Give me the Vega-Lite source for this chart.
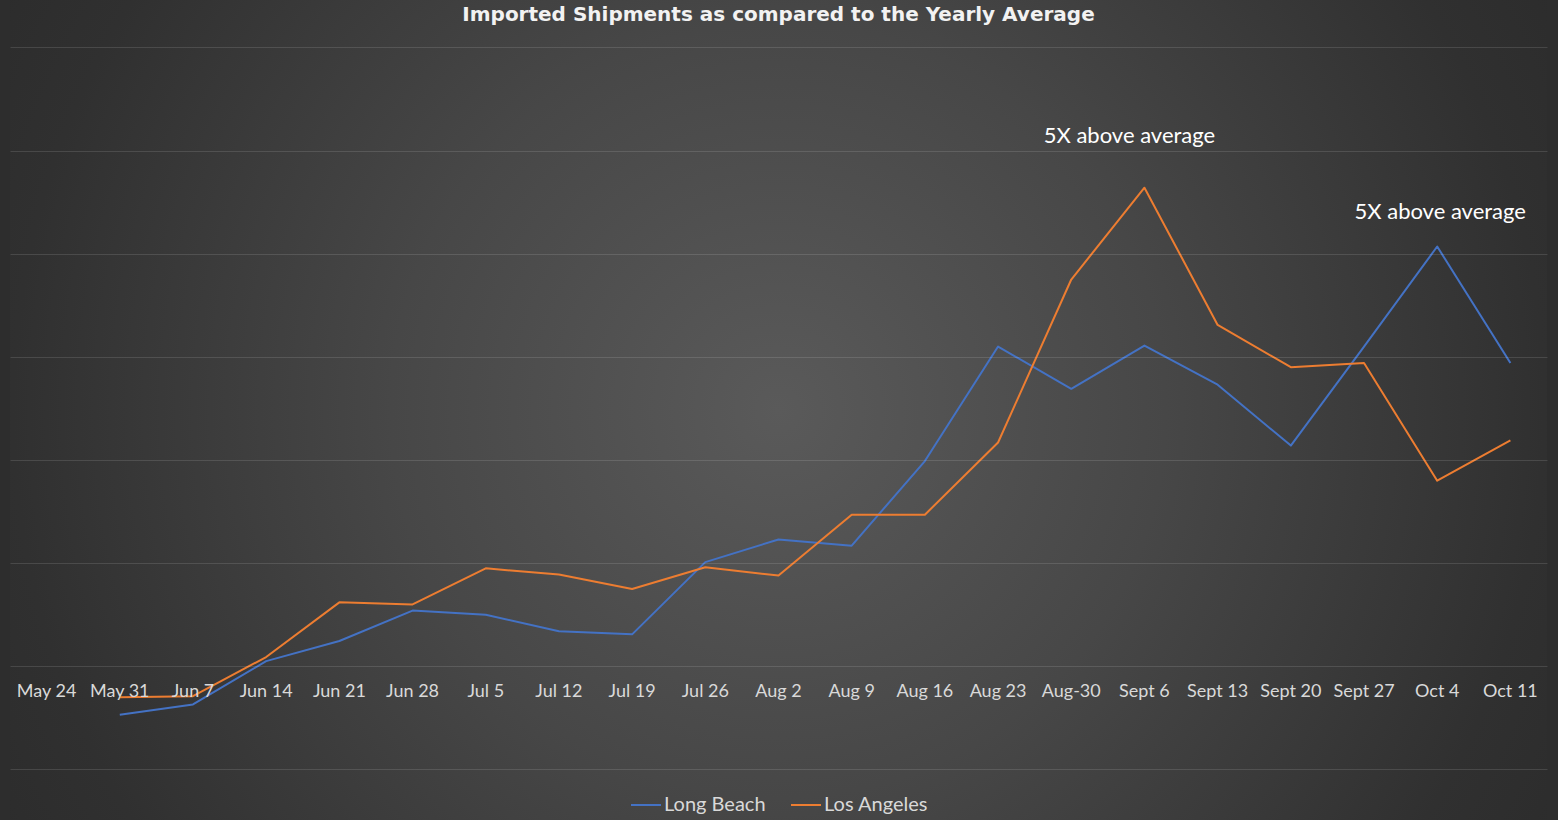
{
  "$schema": "https://vega.github.io/schema/vega-lite/v6.json",
  "description": "Imported shipments compared to the yearly average, Long Beach vs Los Angeles.",
  "width": 1537,
  "height": 820,
  "autosize": "none",
  "padding": {"left": 10, "right": 11, "top": 0, "bottom": 0},
  "background": "#2d2d2d",
  "title": {
    "text": "Imported Shipments as compared to the Yearly Average",
    "frame": "group",
    "anchor": "middle",
    "offset": -41,
    "baseline": "alphabetic",
    "font": "DejaVu Sans",
    "fontSize": 20,
    "fontWeight": "bold",
    "color": "#f2f2f2"
  },
  "datasets": {
    "weeks": [
      {"week": "May 24"}, {"week": "May 31"}, {"week": "Jun 7"}, {"week": "Jun 14"},
      {"week": "Jun 21"}, {"week": "Jun 28"}, {"week": "Jul 5"}, {"week": "Jul 12"},
      {"week": "Jul 19"}, {"week": "Jul 26"}, {"week": "Aug 2"}, {"week": "Aug 9"},
      {"week": "Aug 16"}, {"week": "Aug 23"}, {"week": "Aug-30"}, {"week": "Sept 6"},
      {"week": "Sept 13"}, {"week": "Sept 20"}, {"week": "Sept 27"}, {"week": "Oct 4"},
      {"week": "Oct 11"}
    ],
    "ports": [
      {"week": "May 31", "port": "Long Beach", "value": -0.47},
      {"week": "Jun 7", "port": "Long Beach", "value": -0.37},
      {"week": "Jun 14", "port": "Long Beach", "value": 0.05},
      {"week": "Jun 21", "port": "Long Beach", "value": 0.245},
      {"week": "Jun 28", "port": "Long Beach", "value": 0.54},
      {"week": "Jul 5", "port": "Long Beach", "value": 0.5},
      {"week": "Jul 12", "port": "Long Beach", "value": 0.34},
      {"week": "Jul 19", "port": "Long Beach", "value": 0.31},
      {"week": "Jul 26", "port": "Long Beach", "value": 1.01},
      {"week": "Aug 2", "port": "Long Beach", "value": 1.23},
      {"week": "Aug 9", "port": "Long Beach", "value": 1.17},
      {"week": "Aug 16", "port": "Long Beach", "value": 1.99},
      {"week": "Aug 23", "port": "Long Beach", "value": 3.1},
      {"week": "Aug-30", "port": "Long Beach", "value": 2.69},
      {"week": "Sept 6", "port": "Long Beach", "value": 3.11},
      {"week": "Sept 13", "port": "Long Beach", "value": 2.73},
      {"week": "Sept 20", "port": "Long Beach", "value": 2.14},
      {"week": "Sept 27", "port": "Long Beach", "value": 3.1},
      {"week": "Oct 4", "port": "Long Beach", "value": 4.07},
      {"week": "Oct 11", "port": "Long Beach", "value": 2.94},
      {"week": "May 31", "port": "Los Angeles", "value": -0.3},
      {"week": "Jun 7", "port": "Los Angeles", "value": -0.29},
      {"week": "Jun 14", "port": "Los Angeles", "value": 0.09},
      {"week": "Jun 21", "port": "Los Angeles", "value": 0.62},
      {"week": "Jun 28", "port": "Los Angeles", "value": 0.6},
      {"week": "Jul 5", "port": "Los Angeles", "value": 0.95},
      {"week": "Jul 12", "port": "Los Angeles", "value": 0.89},
      {"week": "Jul 19", "port": "Los Angeles", "value": 0.75},
      {"week": "Jul 26", "port": "Los Angeles", "value": 0.96},
      {"week": "Aug 2", "port": "Los Angeles", "value": 0.88},
      {"week": "Aug 9", "port": "Los Angeles", "value": 1.47},
      {"week": "Aug 16", "port": "Los Angeles", "value": 1.47},
      {"week": "Aug 23", "port": "Los Angeles", "value": 2.17},
      {"week": "Aug-30", "port": "Los Angeles", "value": 3.75},
      {"week": "Sept 6", "port": "Los Angeles", "value": 4.64},
      {"week": "Sept 13", "port": "Los Angeles", "value": 3.31},
      {"week": "Sept 20", "port": "Los Angeles", "value": 2.9},
      {"week": "Sept 27", "port": "Los Angeles", "value": 2.94},
      {"week": "Oct 4", "port": "Los Angeles", "value": 1.8},
      {"week": "Oct 11", "port": "Los Angeles", "value": 2.19}
    ],
    "notes": [
      {"week": "Sept 6", "value": 5.07, "label": "5X above average", "shift": -15},
      {"week": "Oct 4", "value": 4.34, "label": "5X above average", "shift": 3}
    ]
  },
  "layer": [
    {
      "data": {"values": [{}]},
      "mark": {
        "type": "rect",
        "fill": {
          "gradient": "radial",
          "x1": 0.5, "y1": 0.5, "r1": 0,
          "x2": 0.5, "y2": 0.5, "r2": 0.6,
          "stops": [
            {"offset": 0, "color": "#5a5a5a"},
            {"offset": 0.42, "color": "#474747"},
            {"offset": 0.83, "color": "#303030"},
            {"offset": 1, "color": "#2b2b2b"}
          ]
        }
      },
      "encoding": {}
    },
    {
      "data": {"name": "ports"},
      "mark": {"type": "line", "strokeWidth": 2, "strokeJoin": "round"},
      "encoding": {
        "x": {
          "field": "week",
          "type": "ordinal",
          "sort": null,
          "scale": {
            "type": "point",
            "padding": 0.5,
            "domain": ["May 24", "May 31", "Jun 7", "Jun 14", "Jun 21", "Jun 28", "Jul 5", "Jul 12", "Jul 19", "Jul 26", "Aug 2", "Aug 9", "Aug 16", "Aug 23", "Aug-30", "Sept 6", "Sept 13", "Sept 20", "Sept 27", "Oct 4", "Oct 11"]
          },
          "axis": null
        },
        "y": {
          "field": "value",
          "type": "quantitative",
          "scale": {"domain": [-1.49, 6.46], "nice": false, "zero": false},
          "axis": {
            "values": [-1, 0, 1, 2, 3, 4, 5, 6],
            "grid": true,
            "gridColor": "#ffffff",
            "gridOpacity": 0.12,
            "gridWidth": 1,
            "labels": false,
            "ticks": false,
            "domain": false,
            "title": null,
            "zindex": 1
          }
        },
        "color": {
          "field": "port",
          "type": "nominal",
          "scale": {"domain": ["Long Beach", "Los Angeles"], "range": ["#4472C4", "#ED7D31"]},
          "legend": {
            "title": null,
            "orient": "none",
            "legendX": 620,
            "legendY": 789,
            "direction": "horizontal",
            "symbolType": "stroke",
            "symbolSize": 900,
            "symbolStrokeWidth": 2,
            "labelOffset": 2,
            "columnPadding": 21,
            "labelFont": "Lato",
            "labelFontSize": 20,
            "labelColor": "#d9d9d9",
            "padding": 0
          }
        }
      }
    },
    {
      "data": {"name": "weeks"},
      "mark": {
        "type": "text",
        "font": "Lato",
        "fontSize": 18,
        "color": "#d9d9d9",
        "baseline": "alphabetic",
        "dy": 31
      },
      "encoding": {
        "x": {"field": "week", "type": "ordinal", "sort": null},
        "y": {"datum": 0, "type": "quantitative"},
        "text": {"field": "week"}
      }
    },
    {
      "data": {"name": "notes"},
      "mark": {
        "type": "text",
        "font": "Lato",
        "fontSize": 22,
        "color": "#ffffff",
        "baseline": "alphabetic"
      },
      "encoding": {
        "x": {"field": "week", "type": "ordinal", "sort": null},
        "y": {"field": "value", "type": "quantitative"},
        "xOffset": {"field": "shift", "type": "quantitative", "scale": null},
        "text": {"field": "label"}
      }
    }
  ],
  "config": {
    "view": {"stroke": null}
  }
}
